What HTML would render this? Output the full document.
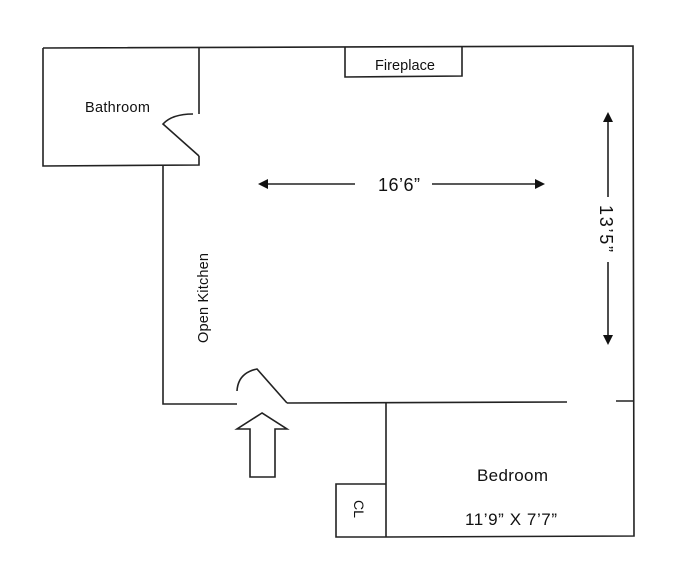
<!DOCTYPE html>
<html><head><meta charset="utf-8"><style>html,body{margin:0;padding:0;background:#fff}svg{display:block}text{font-family:"Liberation Sans",sans-serif;fill:#111}</style></head>
<body>
<svg width="694" height="573" viewBox="0 0 694 573" xmlns="http://www.w3.org/2000/svg">
<g fill="none" stroke="#222" stroke-width="1.6" stroke-linejoin="miter">
<polyline points="43,48 633,46 634,536 386,537"/>
<polyline points="199,47 199,114"/>
<polyline points="43,48 43,166 199,165 199,156"/>
<path d="M193,114 Q172,114 163,124 L199,156"/>
<polyline points="163,166 163,404 237,404"/>
<path d="M237,391 Q238,373 257,369 L287,403"/>
<line x1="287" y1="403" x2="567" y2="402"/>
<line x1="616" y1="401" x2="633" y2="401"/>
<line x1="386" y1="403" x2="386" y2="537"/>
<polyline points="386,484 336,484 336,537 386,537"/>
<polyline points="345,47 345,77 462,76 462,46"/>
<polygon points="262,413 237,429 250,429 250,477 275,477 275,429 287,429"/>
<line x1="266" y1="184" x2="355" y2="184"/>
<line x1="432" y1="184" x2="537" y2="184"/>
<line x1="608" y1="120" x2="608" y2="197"/>
<line x1="608" y1="262" x2="608" y2="337"/>
</g>
<g fill="#111">
<polygon points="258,184 268,179 268,189"/>
<polygon points="545,184 535,179 535,189"/>
<polygon points="608,112 603,122 613,122"/>
<polygon points="608,345 603,335 613,335"/>
</g>
<text x="85" y="112" font-size="14.5" textLength="65">Bathroom</text>
<text x="375" y="70" font-size="14.5" textLength="60">Fireplace</text>
<text x="378" y="191" font-size="18" textLength="42">16’6”</text>
<text transform="translate(600,205) rotate(90)" font-size="18" textLength="47">13’5”</text>
<text transform="translate(208,343) rotate(-90)" font-size="14.5" textLength="90">Open Kitchen</text>
<text x="477" y="481" font-size="17" textLength="71">Bedroom</text>
<text x="465" y="525" font-size="17" textLength="92">11’9” X 7’7”</text>
<text transform="translate(354,500) rotate(90)" font-size="14">CL</text>
</svg>
</body></html>
